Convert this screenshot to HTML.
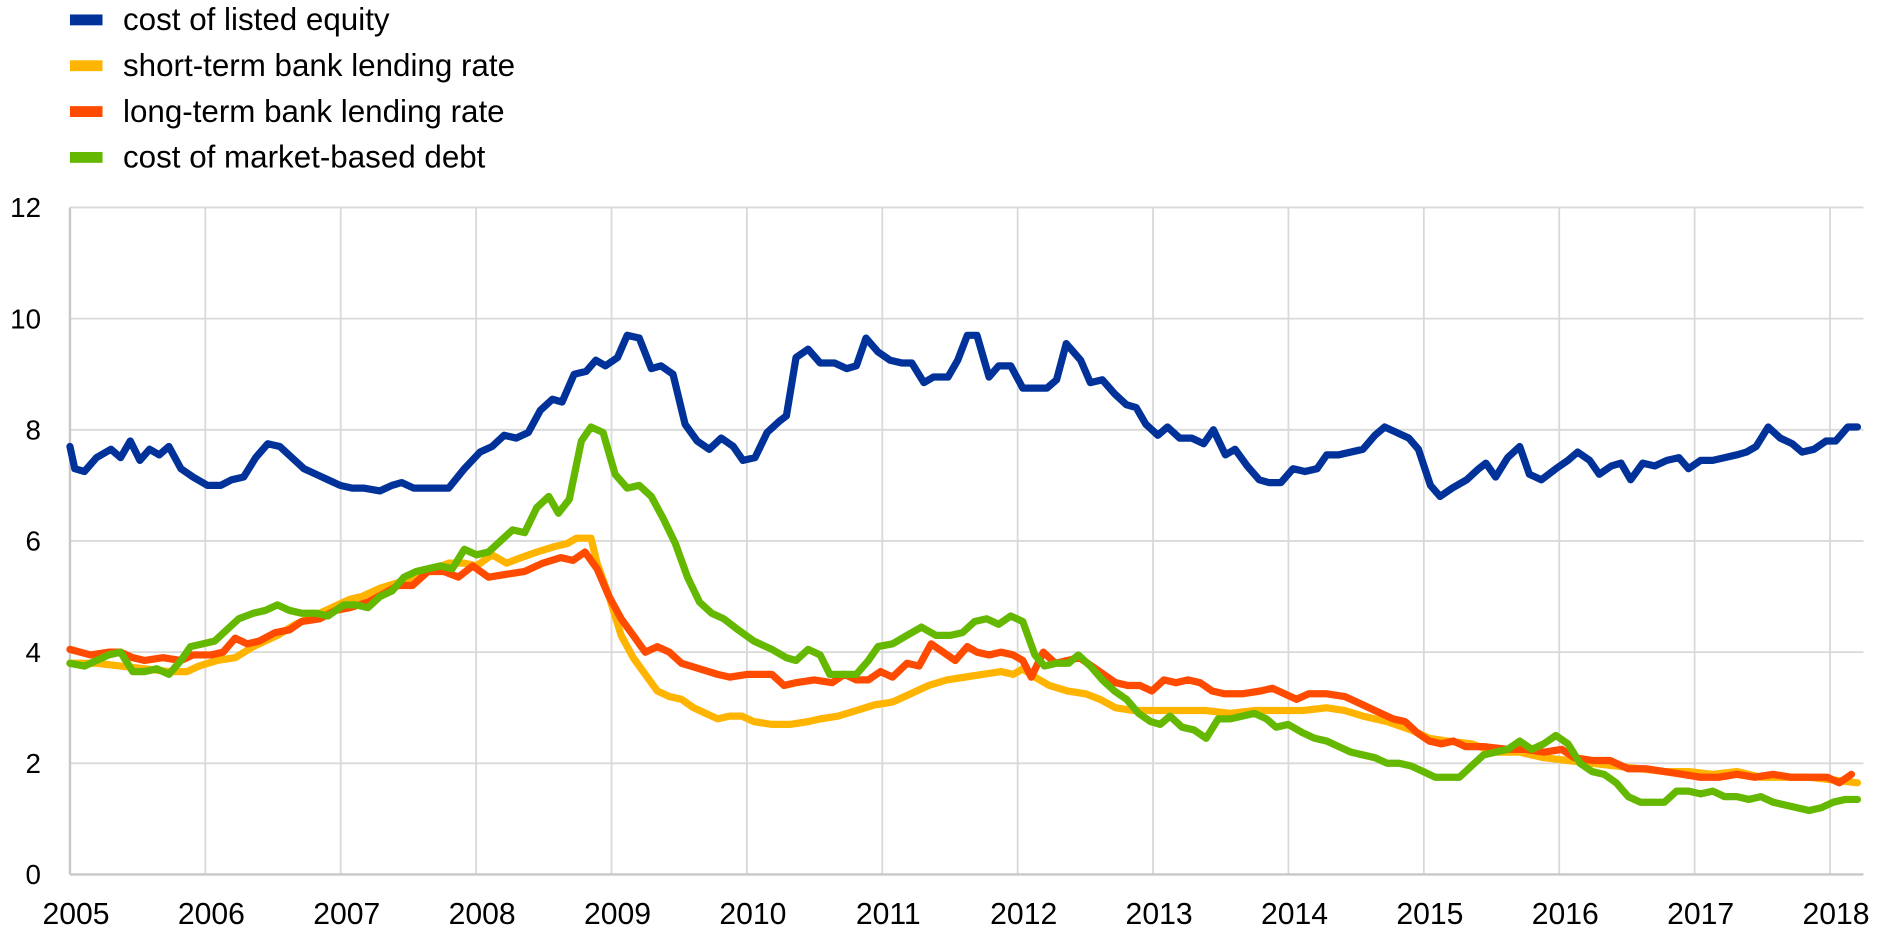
<!DOCTYPE html>
<html><head><meta charset="utf-8">
<style>html,body{margin:0;padding:0;background:#fff;}svg{display:block;}</style>
</head><body>
<svg id="c" width="1890" height="942" viewBox="0 0 1567 781" preserveAspectRatio="none" xmlns="http://www.w3.org/2000/svg" font-family="Liberation Sans, Arial, sans-serif">
<g id="grid"></g>
<g id="lines" fill="none" stroke-width="6" stroke-linejoin="round" stroke-linecap="round"></g>
<g font-size="26" fill="#000">
<rect x="58" y="12" width="27" height="9" fill="#003299"/><text x="102" y="25">cost of listed equity</text>
<rect x="58" y="50" width="27" height="9" fill="#ffb400"/><text x="102" y="63">short-term bank lending rate</text>
<rect x="58" y="88" width="27" height="9" fill="#ff4b00"/><text x="102" y="101">long-term bank lending rate</text>
<rect x="58" y="126" width="27" height="9" fill="#65b800"/><text x="102" y="139">cost of market-based debt</text>
</g>
<g id="labels" fill="#000"></g>
</svg>
<script>
var NS="http://www.w3.org/2000/svg";
function el(p,t,a,txt){var e=document.createElementNS(NS,t);for(var k in a)e.setAttribute(k,a[k]);if(txt!=null)e.textContent=txt;document.getElementById(p).appendChild(e);}
var L=58,R=1545,Y0=725,SY=553/12,YR=112.25;
for(var v=2;v<=12;v+=2){var y=Y0-v*SY;el("grid","line",{x1:L,x2:R,y1:y,y2:y,stroke:"#d9d9d9","stroke-width":1.5});}
for(var i=1;i<=13;i++){var x=L+i*YR;el("grid","line",{x1:x,x2:x,y1:Y0-12*SY,y2:Y0,stroke:"#d9d9d9","stroke-width":1.5});}
el("grid","line",{x1:L,x2:L,y1:Y0-12*SY,y2:Y0,stroke:"#c8c8c8","stroke-width":2});
el("grid","line",{x1:L,x2:R,y1:Y0,y2:Y0,stroke:"#c8c8c8","stroke-width":2});
for(var v=0;v<=12;v+=2){el("labels","text",{x:34,y:Y0-v*SY+8,"text-anchor":"end","font-size":23},String(v));}
for(var i=0;i<=13;i++){el("labels","text",{x:L+i*YR+5,y:766,"text-anchor":"middle","font-size":25},String(2005+i));}
function P(a){var s=[];for(var i=0;i<a.length;i+=2)s.push(a[i]+","+(Y0-a[i+1]*SY).toFixed(1));return s.join(" ");}
var yel=[58,3.8,80,3.8,100,3.75,120,3.7,140,3.65,155,3.65,165,3.75,180,3.85,195,3.9,210,4.1,230,4.3,245,4.5,260,4.65,275,4.8,290,4.95,300,5.0,315,5.15,330,5.25,345,5.35,360,5.5,372,5.6,385,5.6,395,5.55,408,5.75,420,5.6,432,5.7,445,5.8,460,5.9,470,5.95,478,6.05,490,6.05,495,5.6,505,5.0,515,4.3,525,3.9,535,3.6,545,3.3,555,3.2,565,3.15,575,3.0,585,2.9,595,2.8,605,2.85,615,2.85,625,2.75,640,2.7,655,2.7,670,2.75,680,2.8,695,2.85,710,2.95,725,3.05,740,3.1,755,3.25,770,3.4,785,3.5,800,3.55,815,3.6,830,3.65,840,3.6,848,3.7,858,3.55,870,3.4,885,3.3,900,3.25,912,3.15,925,3.0,940,2.95,960,2.95,980,2.95,1000,2.95,1020,2.9,1040,2.95,1060,2.95,1080,2.95,1100,3.0,1115,2.95,1130,2.85,1150,2.75,1170,2.6,1185,2.45,1200,2.4,1220,2.35,1240,2.2,1260,2.2,1280,2.1,1300,2.05,1320,2.0,1340,1.95,1360,1.9,1380,1.85,1400,1.85,1420,1.8,1440,1.85,1460,1.75,1480,1.75,1500,1.75,1520,1.7,1540,1.65];
var red=[58,4.05,75,3.95,90,4.0,100,4.0,110,3.9,120,3.85,135,3.9,150,3.85,160,3.95,175,3.95,185,4.0,195,4.25,205,4.15,215,4.2,228,4.35,240,4.4,250,4.55,265,4.6,278,4.75,290,4.8,305,4.9,318,5.05,330,5.2,342,5.2,355,5.45,368,5.45,380,5.35,392,5.55,405,5.35,420,5.4,435,5.45,450,5.6,465,5.7,475,5.65,485,5.8,495,5.5,505,5.0,515,4.6,525,4.3,535,4.0,545,4.1,555,4.0,565,3.8,580,3.7,595,3.6,605,3.55,620,3.6,640,3.6,650,3.4,660,3.45,675,3.5,690,3.45,700,3.6,710,3.5,720,3.5,730,3.65,740,3.55,752,3.8,762,3.75,772,4.15,782,4.0,792,3.85,802,4.1,810,4.0,820,3.95,830,4.0,840,3.95,848,3.85,855,3.55,865,4.0,875,3.8,885,3.85,895,3.9,905,3.75,915,3.6,925,3.45,935,3.4,945,3.4,955,3.3,965,3.5,975,3.45,985,3.5,995,3.45,1005,3.3,1015,3.25,1030,3.25,1045,3.3,1055,3.35,1065,3.25,1075,3.15,1085,3.25,1100,3.25,1115,3.2,1125,3.1,1140,2.95,1155,2.8,1165,2.75,1175,2.55,1185,2.4,1195,2.35,1205,2.4,1215,2.3,1230,2.3,1250,2.25,1265,2.25,1280,2.2,1295,2.25,1305,2.1,1320,2.05,1335,2.05,1350,1.9,1365,1.9,1380,1.85,1395,1.8,1410,1.75,1425,1.75,1440,1.8,1455,1.75,1470,1.8,1485,1.75,1500,1.75,1515,1.75,1525,1.65,1535,1.8];
var grn=[58,3.8,70,3.75,80,3.85,90,3.95,100,4.0,110,3.65,120,3.65,130,3.7,140,3.6,150,3.85,158,4.1,168,4.15,178,4.2,188,4.4,198,4.6,210,4.7,220,4.75,230,4.85,240,4.75,250,4.7,262,4.7,272,4.65,285,4.85,295,4.85,305,4.8,315,5.0,325,5.1,335,5.35,345,5.45,355,5.5,365,5.55,375,5.5,385,5.85,395,5.75,405,5.8,415,6.0,425,6.2,435,6.15,445,6.6,455,6.8,463,6.5,472,6.75,482,7.8,490,8.05,500,7.95,510,7.2,520,6.95,530,7.0,540,6.8,550,6.4,560,5.95,570,5.35,580,4.9,590,4.7,600,4.6,612,4.4,625,4.2,640,4.05,652,3.9,660,3.85,670,4.05,680,3.95,688,3.6,700,3.6,710,3.6,720,3.85,728,4.1,740,4.15,752,4.3,764,4.45,776,4.3,788,4.3,798,4.35,808,4.55,818,4.6,828,4.5,838,4.65,848,4.55,858,3.95,866,3.75,876,3.8,886,3.8,894,3.95,904,3.75,914,3.5,924,3.3,934,3.15,944,2.9,954,2.75,962,2.7,970,2.85,980,2.65,990,2.6,1000,2.45,1010,2.8,1020,2.8,1030,2.85,1040,2.9,1050,2.8,1058,2.65,1068,2.7,1080,2.55,1090,2.45,1100,2.4,1110,2.3,1120,2.2,1130,2.15,1140,2.1,1150,2.0,1160,2.0,1170,1.95,1180,1.85,1190,1.75,1200,1.75,1210,1.75,1220,1.95,1230,2.15,1240,2.2,1250,2.25,1260,2.4,1270,2.25,1280,2.35,1290,2.5,1300,2.35,1310,2.0,1320,1.85,1330,1.8,1340,1.65,1350,1.4,1360,1.3,1370,1.3,1380,1.3,1390,1.5,1400,1.5,1410,1.45,1420,1.5,1430,1.4,1440,1.4,1450,1.35,1460,1.4,1470,1.3,1480,1.25,1490,1.2,1500,1.15,1510,1.2,1520,1.3,1530,1.35,1540,1.35];
var blu=[58,7.7,62,7.3,70,7.25,80,7.5,92,7.65,100,7.5,108,7.8,116,7.45,124,7.65,132,7.55,140,7.7,150,7.3,160,7.15,172,7.0,183,7.0,192,7.1,202,7.15,212,7.5,222,7.75,232,7.7,242,7.5,252,7.3,262,7.2,272,7.1,282,7.0,292,6.95,302,6.95,315,6.9,325,7.0,333,7.05,343,6.95,355,6.95,372,6.95,385,7.3,398,7.6,408,7.7,418,7.9,428,7.85,438,7.95,448,8.35,458,8.55,466,8.5,476,9.0,486,9.05,494,9.25,502,9.15,512,9.3,520,9.7,530,9.65,540,9.1,548,9.15,558,9.0,568,8.1,578,7.8,588,7.65,598,7.85,608,7.7,616,7.45,626,7.5,636,7.95,646,8.15,652,8.25,660,9.3,670,9.45,680,9.2,692,9.2,702,9.1,710,9.15,718,9.65,728,9.4,738,9.25,748,9.2,756,9.2,766,8.85,774,8.95,786,8.95,794,9.25,802,9.7,810,9.7,820,8.95,828,9.15,838,9.15,848,8.75,860,8.75,868,8.75,876,8.9,884,9.55,896,9.25,904,8.85,914,8.9,924,8.65,934,8.45,942,8.4,950,8.1,960,7.9,968,8.05,978,7.85,988,7.85,998,7.75,1006,8.0,1016,7.55,1024,7.65,1034,7.35,1044,7.1,1052,7.05,1062,7.05,1072,7.3,1082,7.25,1092,7.3,1100,7.55,1110,7.55,1120,7.6,1130,7.65,1140,7.9,1148,8.05,1158,7.95,1168,7.85,1176,7.65,1186,7.0,1194,6.8,1204,6.95,1216,7.1,1226,7.3,1232,7.4,1240,7.15,1250,7.5,1260,7.7,1268,7.2,1278,7.1,1290,7.3,1300,7.45,1308,7.6,1318,7.45,1326,7.2,1336,7.35,1344,7.4,1352,7.1,1362,7.4,1372,7.35,1382,7.45,1392,7.5,1400,7.3,1410,7.45,1420,7.45,1430,7.5,1440,7.55,1448,7.6,1456,7.7,1466,8.05,1476,7.85,1486,7.75,1494,7.6,1504,7.65,1514,7.8,1522,7.8,1532,8.05,1540,8.05];
el("lines","polyline",{points:P(yel),stroke:"#ffb400"});
el("lines","polyline",{points:P(red),stroke:"#ff4b00"});
el("lines","polyline",{points:P(grn),stroke:"#65b800"});
el("lines","polyline",{points:P(blu),stroke:"#003299"});
</script>
</body></html>
